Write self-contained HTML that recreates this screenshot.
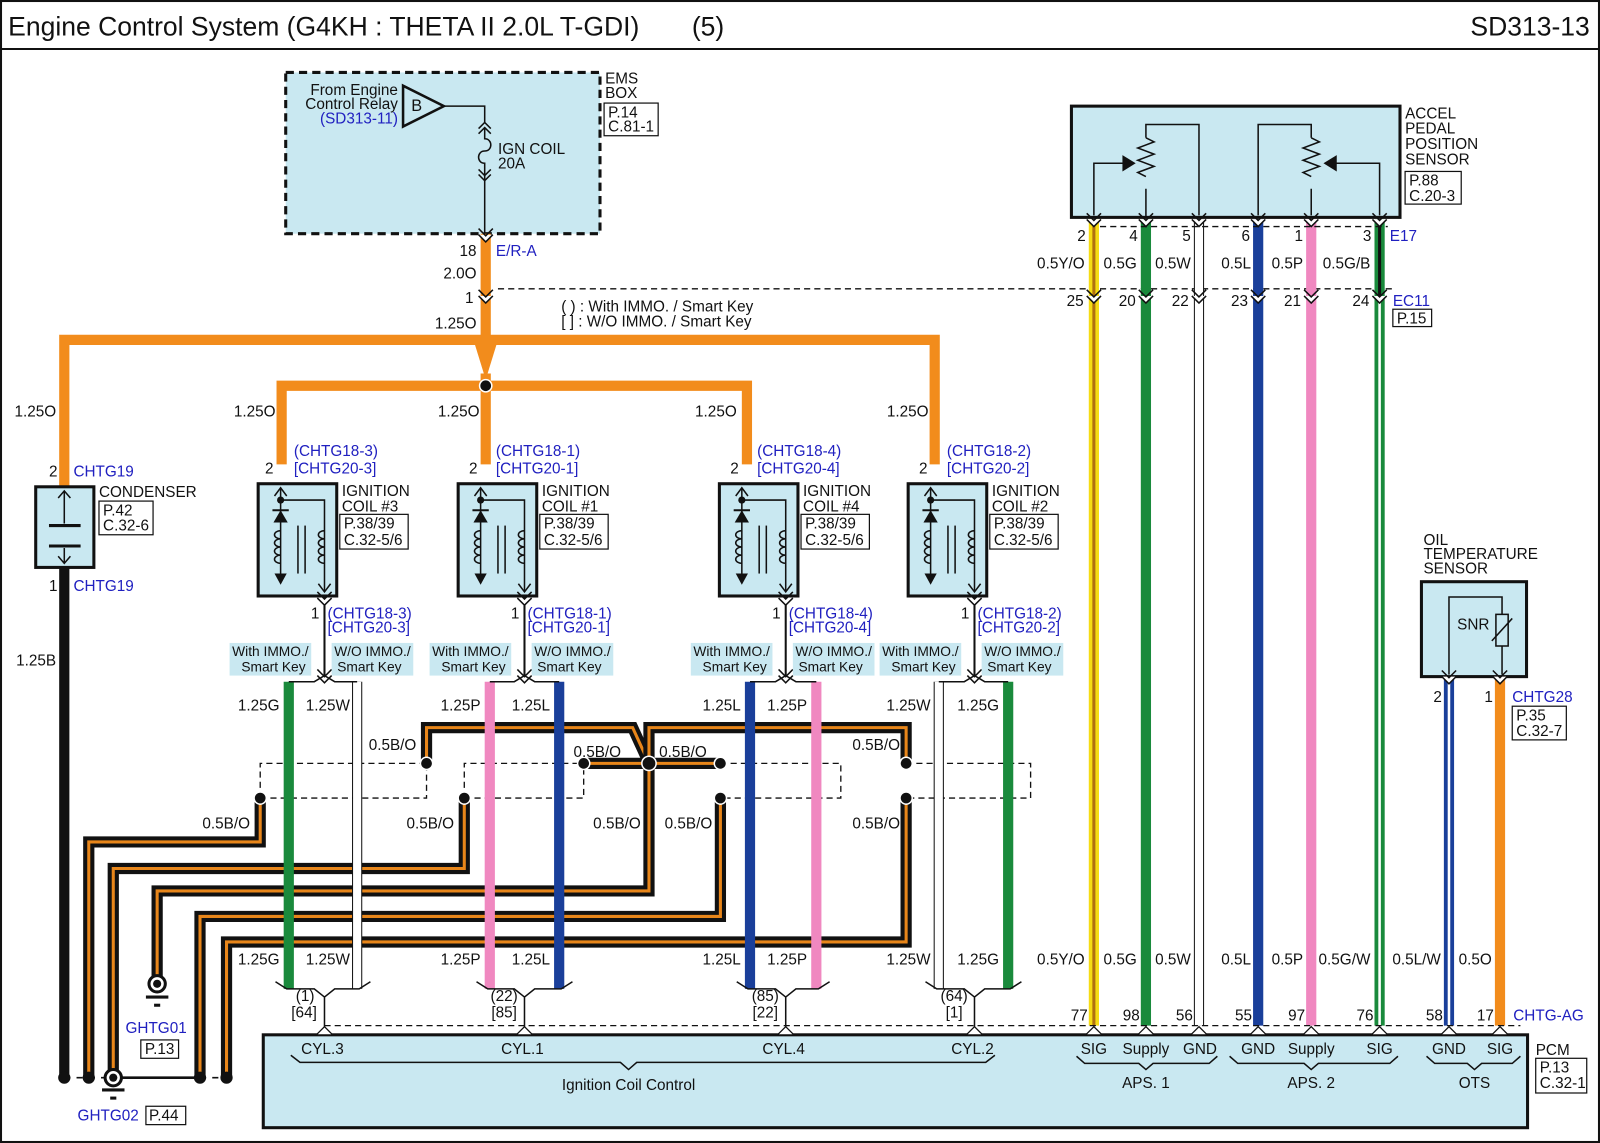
<!DOCTYPE html>
<html><head><meta charset="utf-8"><style>
html,body{margin:0;padding:0;background:#fff}
svg{display:block}
text{font-family:"Liberation Sans",Arial,sans-serif;font-size:15px;fill:#111}
.b{fill:#2020c0}.r{text-anchor:end}.m{text-anchor:middle}
.box{fill:#c9e8f1;stroke:#111;stroke-width:3}
.pb{fill:#fff;stroke:#111;stroke-width:1.2}
.ln{fill:none;stroke:#111;stroke-width:1.5}
.ds{fill:none;stroke:#111;stroke-width:1.3;stroke-dasharray:6,4}
.lb{fill:#c9e8f1}
.bo1{fill:none;stroke:#111;stroke-width:11}
.bo2{fill:none;stroke:#e8861a;stroke-width:3}
.sm{font-size:13.5px}
</style></head><body>
<svg width="1600" height="1143" viewBox="0 0 1568 1120" preserveAspectRatio="none" xmlns="http://www.w3.org/2000/svg">
<defs>
<g id="cv"><polygon points="-7,0 7,0 0,7" fill="#fff"/><polyline points="-7,-6 0,1 7,-6" class="ln"/><polyline points="-7,0 0,7 7,0" class="ln"/></g>
<g id="fm"><polygon points="-8,0 8,0 0,-8" fill="#fff" stroke="#111" stroke-width="1.2"/></g>
<g id="coil">
<rect x="253" y="474" width="77" height="110" class="box"/>
<line x1="275" y1="478" x2="275" y2="566" class="ln"/>
<polyline points="269,486 275,478 281,486" class="ln"/>
<circle cx="275" cy="490" r="3.5" fill="#111"/>
<path d="M275,490 H318 V580" class="ln"/>
<polyline points="312,572 318,580 324,572" class="ln"/>
<polygon points="268,512 282,512 275,500" fill="#111"/><line x1="267" y1="500" x2="283" y2="500" stroke="#111" stroke-width="2"/>
<path d="M275,520 a6,4 0 1 0 0,8 a6,4 0 1 0 0,8 a6,4 0 1 0 0,8 a6,4 0 1 0 0,8" class="ln"/>
<path d="M318,520 a6,4 0 1 0 0,8 a6,4 0 1 0 0,8 a6,4 0 1 0 0,8 a6,4 0 1 0 0,8" class="ln"/>
<line x1="292" y1="515" x2="292" y2="562" class="ln"/><line x1="299" y1="515" x2="299" y2="562" class="ln"/>
<polygon points="269,562 281,562 275,573" fill="#111"/>
<line x1="318" y1="584" x2="318" y2="664" stroke="#111" stroke-width="2"/>
<use href="#cv" x="318" y="586"/>
<use href="#cv" x="318" y="662"/>
<rect x="225" y="630" width="80" height="32" class="lb"/>
<rect x="325" y="630" width="80" height="32" class="lb"/>
</g>
</defs>
<rect x="1" y="1" width="1566" height="1118" fill="none" stroke="#111" stroke-width="2"/>
<line x1="1" y1="48" x2="1567" y2="48" stroke="#111" stroke-width="2"/>
<text x="8" y="35" style="font-size:26px">Engine Control System (G4KH : THETA II 2.0L T-GDI)</text>
<text x="678" y="35" style="font-size:26px">(5)</text>
<text x="1558" y="35" class="r" style="font-size:26px">SD313-13</text>

<!-- EMS box -->
<rect x="280" y="71" width="308" height="158" fill="#c9e8f1" stroke="#111" stroke-width="3" stroke-dasharray="8,5"/>
<text x="593" y="82">EMS</text><text x="593" y="96">BOX</text>
<rect x="592" y="101" width="53" height="32" class="pb"/><text x="596" y="115">P.14</text><text x="596" y="129">C.81-1</text>
<text x="390" y="93" class="r">From Engine</text><text x="390" y="107" class="r">Control Relay</text><text x="390" y="121" class="r b">(SD313-11)</text>
<polygon points="395,84 395,124 435,104" fill="none" stroke="#111" stroke-width="2.5"/>
<text x="403" y="109" style="font-size:16px">B</text>
<path d="M435,104 H475 V120" class="ln"/>
<polyline points="469,126 475,120 481,126" class="ln"/><polyline points="469,131 475,125 481,131" class="ln"/>
<path d="M475,125 V136 c8,0 8,12 0,12 c-8,0 -8,12 0,12 V172" class="ln"/>
<polyline points="469,166 475,172 481,166" class="ln"/><polyline points="469,171 475,177 481,171" class="ln"/>
<path d="M475,172 V229" class="ln"/>
<text x="488" y="151">IGN COIL</text><text x="488" y="165">20A</text>

<!-- orange harness -->
<line x1="476" y1="229" x2="476" y2="345" stroke="#f28c1c" stroke-width="10"/>
<path d="M63,477 V333 H916 V455" fill="none" stroke="#f28c1c" stroke-width="10"/>
<polygon points="464,333 488,333 476,372" fill="#f28c1c"/>
<path d="M276,455 V378 H732 V455" fill="none" stroke="#f28c1c" stroke-width="10"/>
<line x1="476" y1="366" x2="476" y2="455" stroke="#f28c1c" stroke-width="10"/>
<circle cx="476" cy="378" r="6" fill="#111" stroke="#fff" stroke-width="1.5"/>
<use href="#cv" x="476" y="230"/><use href="#cv" x="476" y="290"/>
<text x="467" y="251" class="r">18</text><text x="486" y="251" class="b">E/R-A</text>
<text x="467" y="273" class="r">2.0O</text><text x="464" y="297" class="r">1</text>
<text x="467" y="322" class="r">1.25O</text>
<path d="M488,283 H1368" class="ds"/>
<text x="550" y="305">(     ) : With IMMO. / Smart Key</text>
<text x="550" y="320">[     ] : W/O IMMO. / Smart Key</text>
<text x="55" y="408" class="r">1.25O</text><text x="270" y="408" class="r">1.25O</text><text x="470" y="408" class="r">1.25O</text><text x="722" y="408" class="r">1.25O</text><text x="910" y="408" class="r">1.25O</text>

<!-- condenser -->
<rect x="35" y="477" width="57" height="79" class="box"/>
<line x1="63" y1="481" x2="63" y2="513" class="ln"/><line x1="63" y1="537" x2="63" y2="552" class="ln"/>
<polyline points="57,488 63,481 69,488" class="ln"/><polyline points="57,545 63,552 69,545" class="ln"/>
<line x1="48" y1="515" x2="79" y2="515" stroke="#111" stroke-width="3"/><line x1="48" y1="535" x2="79" y2="535" stroke="#111" stroke-width="3"/>
<text x="48" y="467">2</text><text x="72" y="467" class="b">CHTG19</text>
<text x="97" y="487">CONDENSER</text>
<rect x="97" y="491" width="53" height="33" class="pb"/><text x="101" y="505">P.42</text><text x="101" y="520">C.32-6</text>
<text x="48" y="579">1</text><text x="72" y="579" class="b">CHTG19</text>
<line x1="63" y1="556" x2="63" y2="1056" stroke="#111" stroke-width="10"/>
<text x="55" y="652" class="r">1.25B</text>

<!-- B/O wires -->
<g>
<path d="M255,782 V825 H87 V1056" class="bo1"/><path d="M255,782 V825 H87 V1056" class="bo2"/>
<path d="M455,782 V851 H111 V1056" class="bo1"/><path d="M455,782 V851 H111 V1056" class="bo2"/>
<path d="M636,748 V873 H154 V962" class="bo1"/><path d="M636,748 V873 H154 V962" class="bo2"/>
<path d="M706,782 V898 H196 V1056" class="bo1"/><path d="M706,782 V898 H196 V1056" class="bo2"/>
<path d="M888,782 V923 H222 V1056" class="bo1"/><path d="M888,782 V923 H222 V1056" class="bo2"/>
<path d="M418,748 V713 H620 L636,748" class="bo1"/><path d="M418,748 V713 H620 L636,748" class="bo2"/>
<path d="M636,748 V713 H888 V748" class="bo1"/><path d="M636,748 V713 H888 V748" class="bo2"/>
<path d="M572,748 H706" class="bo1"/><path d="M572,748 H706" class="bo2"/>
</g>
<path d="M255,782 V748 H418 M255,782 H418 V748" class="ds"/>
<path d="M455,782 V748 H572 M455,782 H572 V748" class="ds"/>
<path d="M706,748 H824 V782 H706" class="ds"/>
<path d="M888,748 H1010 V782 H888" class="ds"/>

<!-- coils -->
<use href="#coil"/>
<use href="#coil" x="196"/>
<use href="#coil" x="452"/>
<use href="#coil" x="637"/>

<!-- coil wires -->
<g>
<line x1="283" y1="668" x2="283" y2="969" stroke="#1a8a3c" stroke-width="10"/>
<line x1="350" y1="668" x2="350" y2="969" stroke="#111" stroke-width="10"/><line x1="350" y1="668" x2="350" y2="969" stroke="#fff" stroke-width="8"/>
<line x1="480" y1="668" x2="480" y2="969" stroke="#f088c0" stroke-width="10"/>
<line x1="548" y1="668" x2="548" y2="969" stroke="#1a3f9a" stroke-width="10"/>
<line x1="735" y1="668" x2="735" y2="969" stroke="#1a3f9a" stroke-width="10"/>
<line x1="800" y1="668" x2="800" y2="969" stroke="#f088c0" stroke-width="10"/>
<line x1="920" y1="668" x2="920" y2="969" stroke="#111" stroke-width="10"/><line x1="920" y1="668" x2="920" y2="969" stroke="#fff" stroke-width="8"/>
<line x1="988" y1="668" x2="988" y2="969" stroke="#1a8a3c" stroke-width="10"/>
</g>
<path d="M283,668 H308 L318,662 L328,668 H350" class="ln"/>
<path d="M480,668 H504 L514,662 L524,668 H548" class="ln"/>
<path d="M735,668 H760 L770,662 L780,668 H800" class="ln"/>
<path d="M920,668 H945 L955,662 L965,668 H988" class="ln"/>
<path d="M270,962 L281,969 H308 L318,977 L328,969 H352 L363,962 M318,977 V1006" class="ln"/>
<path d="M467,962 L478,969 H504 L514,977 L524,969 H550 L561,962 M514,977 V1006" class="ln"/>
<path d="M722,962 L733,969 H760 L770,977 L780,969 H802 L813,962 M770,977 V1006" class="ln"/>
<path d="M907,962 L918,969 H945 L955,977 L965,969 H990 L1001,962 M955,977 V1006" class="ln"/>

<!-- dots -->
<g fill="#111" stroke="#fff" stroke-width="1.5">
<circle cx="418" cy="748" r="6"/><circle cx="572" cy="748" r="6"/><circle cx="636" cy="748" r="7"/><circle cx="706" cy="748" r="6"/><circle cx="888" cy="748" r="6"/>
<circle cx="255" cy="782" r="6"/><circle cx="455" cy="782" r="6"/><circle cx="706" cy="782" r="6"/><circle cx="888" cy="782" r="6"/>
</g>
<text x="408" y="735" class="r">0.5B/O</text><text x="245" y="812" class="r">0.5B/O</text><text x="445" y="812" class="r">0.5B/O</text>
<text x="562" y="742">0.5B/O</text><text x="646" y="742">0.5B/O</text><text x="628" y="812" class="r">0.5B/O</text>
<text x="698" y="812" class="r">0.5B/O</text><text x="882" y="735" class="r">0.5B/O</text><text x="882" y="812" class="r">0.5B/O</text>

<!-- coil texts -->
<g>
<text x="268" y="464" class="r">2</text><text x="288" y="447" class="b">(CHTG18-3)</text><text x="288" y="464" class="b">[CHTG20-3]</text>
<text x="335" y="486">IGNITION</text><text x="335" y="501">COIL #3</text>
<rect x="333" y="504" width="67" height="34" class="pb"/><text x="337" y="518">P.38/39</text><text x="337" y="534">C.32-5/6</text>
<text x="313" y="606" class="r">1</text><text x="321" y="606" class="b">(CHTG18-3)</text><text x="321" y="620" class="b">[CHTG20-3]</text>

<text x="468" y="464" class="r">2</text><text x="486" y="447" class="b">(CHTG18-1)</text><text x="486" y="464" class="b">[CHTG20-1]</text>
<text x="531" y="486">IGNITION</text><text x="531" y="501">COIL #1</text>
<rect x="529" y="504" width="67" height="34" class="pb"/><text x="533" y="518">P.38/39</text><text x="533" y="534">C.32-5/6</text>
<text x="509" y="606" class="r">1</text><text x="517" y="606" class="b">(CHTG18-1)</text><text x="517" y="620" class="b">[CHTG20-1]</text>

<text x="724" y="464" class="r">2</text><text x="742" y="447" class="b">(CHTG18-4)</text><text x="742" y="464" class="b">[CHTG20-4]</text>
<text x="787" y="486">IGNITION</text><text x="787" y="501">COIL #4</text>
<rect x="785" y="504" width="67" height="34" class="pb"/><text x="789" y="518">P.38/39</text><text x="789" y="534">C.32-5/6</text>
<text x="765" y="606" class="r">1</text><text x="773" y="606" class="b">(CHTG18-4)</text><text x="773" y="620" class="b">[CHTG20-4]</text>

<text x="909" y="464" class="r">2</text><text x="928" y="447" class="b">(CHTG18-2)</text><text x="928" y="464" class="b">[CHTG20-2]</text>
<text x="972" y="486">IGNITION</text><text x="972" y="501">COIL #2</text>
<rect x="970" y="504" width="67" height="34" class="pb"/><text x="974" y="518">P.38/39</text><text x="974" y="534">C.32-5/6</text>
<text x="950" y="606" class="r">1</text><text x="958" y="606" class="b">(CHTG18-2)</text><text x="958" y="620" class="b">[CHTG20-2]</text>
</g>
<g>
<text x="265" y="643" class="m sm">With IMMO./</text><text x="268" y="658" class="m sm">Smart Key</text>
<text x="365" y="643" class="m sm">W/O IMMO./</text><text x="362" y="658" class="m sm">Smart Key</text>
<text x="461" y="643" class="m sm">With IMMO./</text><text x="464" y="658" class="m sm">Smart Key</text>
<text x="561" y="643" class="m sm">W/O IMMO./</text><text x="558" y="658" class="m sm">Smart Key</text>
<text x="717" y="643" class="m sm">With IMMO./</text><text x="720" y="658" class="m sm">Smart Key</text>
<text x="817" y="643" class="m sm">W/O IMMO./</text><text x="814" y="658" class="m sm">Smart Key</text>
<text x="902" y="643" class="m sm">With IMMO./</text><text x="905" y="658" class="m sm">Smart Key</text>
<text x="1002" y="643" class="m sm">W/O IMMO./</text><text x="999" y="658" class="m sm">Smart Key</text>
</g>
<g>
<text x="274" y="696" class="r">1.25G</text><text x="343" y="696" class="r">1.25W</text>
<text x="471" y="696" class="r">1.25P</text><text x="539" y="696" class="r">1.25L</text>
<text x="726" y="696" class="r">1.25L</text><text x="791" y="696" class="r">1.25P</text>
<text x="912" y="696" class="r">1.25W</text><text x="979" y="696" class="r">1.25G</text>
<text x="274" y="945" class="r">1.25G</text><text x="343" y="945" class="r">1.25W</text>
<text x="471" y="945" class="r">1.25P</text><text x="539" y="945" class="r">1.25L</text>
<text x="726" y="945" class="r">1.25L</text><text x="791" y="945" class="r">1.25P</text>
<text x="912" y="945" class="r">1.25W</text><text x="979" y="945" class="r">1.25G</text>
<text x="299" y="981" class="m">(1)</text><text x="298" y="997" class="m">[64]</text>
<text x="494" y="981" class="m">(22)</text><text x="494" y="997" class="m">[85]</text>
<text x="750" y="981" class="m">(85)</text><text x="750" y="997" class="m">[22]</text>
<text x="935" y="981" class="m">(64)</text><text x="935" y="997" class="m">[1]</text>
</g>

<!-- APS sensor -->
<rect x="1050" y="104" width="322" height="109" class="box"/>
<path d="M1123,185 V213 M1123,135 V122 H1175 V211" class="ln"/>
<path d="M1123,135 l8,4 l-16,6 l16,6 l-16,6 l16,6 l-16,6 l8,4" class="ln"/>
<path d="M1105,160 H1072 V211" class="ln"/><polygon points="1100,152 1100,168 1113,160" fill="#111"/>
<path d="M1285,185 V211 M1285,135 V122 H1233 V211" class="ln"/>
<path d="M1285,135 l8,4 l-16,6 l16,6 l-16,6 l16,6 l-16,6 l8,4" class="ln"/>
<path d="M1305,160 H1352 V211" class="ln"/><polygon points="1310,152 1310,168 1297,160" fill="#111"/>
<text x="1377" y="116">ACCEL</text><text x="1377" y="131">PEDAL</text><text x="1377" y="146">POSITION</text><text x="1377" y="161">SENSOR</text>
<rect x="1377" y="168" width="55" height="32" class="pb"/><text x="1381" y="182">P.88</text><text x="1381" y="197">C.20-3</text>

<!-- right wires -->
<g>
<line x1="1072" y1="215" x2="1072" y2="1005" stroke="#f5dc14" stroke-width="10"/>
<line x1="1072" y1="215" x2="1072" y2="1005" stroke="#b07010" stroke-width="3"/>
<line x1="1123" y1="215" x2="1123" y2="1005" stroke="#1a8a3c" stroke-width="10"/>
<line x1="1175" y1="215" x2="1175" y2="1005" stroke="#111" stroke-width="10"/><line x1="1175" y1="215" x2="1175" y2="1005" stroke="#fff" stroke-width="8"/>
<line x1="1233" y1="215" x2="1233" y2="1005" stroke="#1a3f9a" stroke-width="10"/>
<line x1="1285" y1="215" x2="1285" y2="1005" stroke="#f088c0" stroke-width="10"/>
<line x1="1352" y1="215" x2="1352" y2="1005" stroke="#1a8a3c" stroke-width="10"/>
<line x1="1352" y1="215" x2="1352" y2="290" stroke="#111" stroke-width="3"/>
<line x1="1352" y1="290" x2="1352" y2="1005" stroke="#fff" stroke-width="2.5"/>
<line x1="1420" y1="663" x2="1420" y2="1005" stroke="#1a3f9a" stroke-width="10"/>
<line x1="1420" y1="663" x2="1420" y2="1005" stroke="#fff" stroke-width="2.5"/>
<line x1="1470" y1="663" x2="1470" y2="1005" stroke="#f28c1c" stroke-width="10"/>
</g>
<path d="M1078,222 H1360" class="ds"/>
<g>
<use href="#cv" x="1072" y="215"/><use href="#cv" x="1123" y="215"/><use href="#cv" x="1175" y="215"/><use href="#cv" x="1233" y="215"/><use href="#cv" x="1285" y="215"/><use href="#cv" x="1352" y="215"/>
<use href="#cv" x="1072" y="290"/><use href="#cv" x="1123" y="290"/><use href="#cv" x="1175" y="290"/><use href="#cv" x="1233" y="290"/><use href="#cv" x="1285" y="290"/><use href="#cv" x="1352" y="290"/>
</g>
<text x="1064" y="236" class="r">2</text><text x="1115" y="236" class="r">4</text><text x="1167" y="236" class="r">5</text><text x="1225" y="236" class="r">6</text><text x="1277" y="236" class="r">1</text><text x="1344" y="236" class="r">3</text><text x="1362" y="236" class="b">E17</text>
<text x="1063" y="263" class="r">0.5Y/O</text><text x="1114" y="263" class="r">0.5G</text><text x="1167" y="263" class="r">0.5W</text><text x="1226" y="263" class="r">0.5L</text><text x="1277" y="263" class="r">0.5P</text><text x="1343" y="263" class="r">0.5G/B</text>
<text x="1062" y="300" class="r">25</text><text x="1113" y="300" class="r">20</text><text x="1165" y="300" class="r">22</text><text x="1223" y="300" class="r">23</text><text x="1275" y="300" class="r">21</text><text x="1342" y="300" class="r">24</text><text x="1365" y="300" class="b">EC11</text>
<rect x="1365" y="303" width="38" height="17" class="pb"/><text x="1369" y="317">P.15</text>

<!-- Oil temp sensor -->
<text x="1395" y="534">OIL</text><text x="1395" y="548">TEMPERATURE</text><text x="1395" y="562">SENSOR</text>
<rect x="1393" y="570" width="103" height="93" class="box"/>
<path d="M1420,661 V585 H1472 V602 M1472,633 V661" class="ln"/>
<rect x="1466" y="602" width="12" height="31" fill="none" stroke="#111" stroke-width="1.5"/>
<line x1="1462" y1="628" x2="1482" y2="606" class="ln"/>
<text x="1428" y="617">SNR</text>
<use href="#cv" x="1420" y="663"/><use href="#cv" x="1470" y="663"/>
<text x="1413" y="688" class="r">2</text><text x="1463" y="688" class="r">1</text><text x="1482" y="688" class="b">CHTG28</text>
<rect x="1482" y="692" width="53" height="33" class="pb"/><text x="1486" y="706">P.35</text><text x="1486" y="721">C.32-7</text>
<text x="1063" y="945" class="r">0.5Y/O</text><text x="1114" y="945" class="r">0.5G</text><text x="1167" y="945" class="r">0.5W</text><text x="1226" y="945" class="r">0.5L</text><text x="1277" y="945" class="r">0.5P</text><text x="1343" y="945" class="r">0.5G/W</text><text x="1412" y="945" class="r">0.5L/W</text><text x="1462" y="945" class="r">0.5O</text>

<!-- PCM -->
<path d="M318,1005 H1490" class="ds"/>
<rect x="258" y="1014" width="1239" height="91" class="box"/>
<g><use href="#fm" x="318" y="1014"/><use href="#fm" x="514" y="1014"/><use href="#fm" x="770" y="1014"/><use href="#fm" x="955" y="1014"/>
<use href="#fm" x="1072" y="1014"/><use href="#fm" x="1123" y="1014"/><use href="#fm" x="1175" y="1014"/><use href="#fm" x="1233" y="1014"/><use href="#fm" x="1285" y="1014"/><use href="#fm" x="1352" y="1014"/><use href="#fm" x="1420" y="1014"/><use href="#fm" x="1470" y="1014"/></g>
<text x="1066" y="1000" class="r">77</text><text x="1117" y="1000" class="r">98</text><text x="1169" y="1000" class="r">56</text><text x="1227" y="1000" class="r">55</text><text x="1279" y="1000" class="r">97</text><text x="1346" y="1000" class="r">76</text><text x="1414" y="1000" class="r">58</text><text x="1464" y="1000" class="r">17</text>
<text x="1483" y="1000" class="b">CHTG-AG</text>
<text x="316" y="1033" class="m">CYL.3</text><text x="512" y="1033" class="m">CYL.1</text><text x="768" y="1033" class="m">CYL.4</text><text x="953" y="1033" class="m">CYL.2</text>
<path d="M285,1034 L294,1041 H608 L616,1048 L624,1041 H966 L975,1034" class="ln"/>
<text x="616" y="1068" class="m">Ignition Coil Control</text>
<text x="1072" y="1033" class="m">SIG</text><text x="1123" y="1033" class="m">Supply</text><text x="1176" y="1033" class="m">GND</text>
<text x="1233" y="1033" class="m">GND</text><text x="1285" y="1033" class="m">Supply</text><text x="1352" y="1033" class="m">SIG</text>
<text x="1420" y="1033" class="m">GND</text><text x="1470" y="1033" class="m">SIG</text>
<path d="M1055,1035 L1063,1042 H1116 L1123,1048 L1130,1042 H1185 L1193,1035" class="ln"/>
<path d="M1205,1035 L1213,1042 H1278 L1285,1048 L1292,1042 H1362 L1370,1035" class="ln"/>
<path d="M1398,1035 L1406,1042 H1438 L1445,1048 L1452,1042 H1482 L1490,1035" class="ln"/>
<text x="1123" y="1066" class="m">APS. 1</text><text x="1285" y="1066" class="m">APS. 2</text><text x="1445" y="1066" class="m">OTS</text>
<text x="1505" y="1034">PCM</text>
<rect x="1505" y="1037" width="50" height="34" class="pb"/><text x="1509" y="1051">P.13</text><text x="1509" y="1066">C.32-1</text>

<!-- grounds -->
<path d="M63,1056 H111" class="ln" stroke-dasharray="6,6"/>
<path d="M111,1056 H196" stroke="#111" stroke-width="2.5"/>
<path d="M196,1056 H222" class="ln" stroke-dasharray="6,6"/>
<g fill="#111"><circle cx="63" cy="1056" r="6"/><circle cx="87" cy="1056" r="6"/><circle cx="196" cy="1056" r="6"/><circle cx="222" cy="1056" r="6"/></g>
<circle cx="111" cy="1056" r="8" fill="#fff" stroke="#111" stroke-width="3"/><circle cx="111" cy="1056" r="4" fill="#111"/>
<line x1="100" y1="1068" x2="122" y2="1068" stroke="#111" stroke-width="3"/><line x1="108" y1="1076" x2="114" y2="1076" stroke="#111" stroke-width="3"/>
<circle cx="154" cy="964" r="8" fill="#fff" stroke="#111" stroke-width="3"/><circle cx="154" cy="964" r="4" fill="#111"/>
<line x1="143" y1="977" x2="165" y2="977" stroke="#111" stroke-width="3"/><line x1="151" y1="985" x2="157" y2="985" stroke="#111" stroke-width="3"/>
<text x="123" y="1012" class="b">GHTG01</text>
<rect x="138" y="1019" width="37" height="18" class="pb"/><text x="142" y="1033">P.13</text>
<text x="76" y="1098" class="b">GHTG02</text>
<rect x="143" y="1084" width="39" height="18" class="pb"/><text x="146" y="1098">P.44</text>
</svg>
</body></html>
